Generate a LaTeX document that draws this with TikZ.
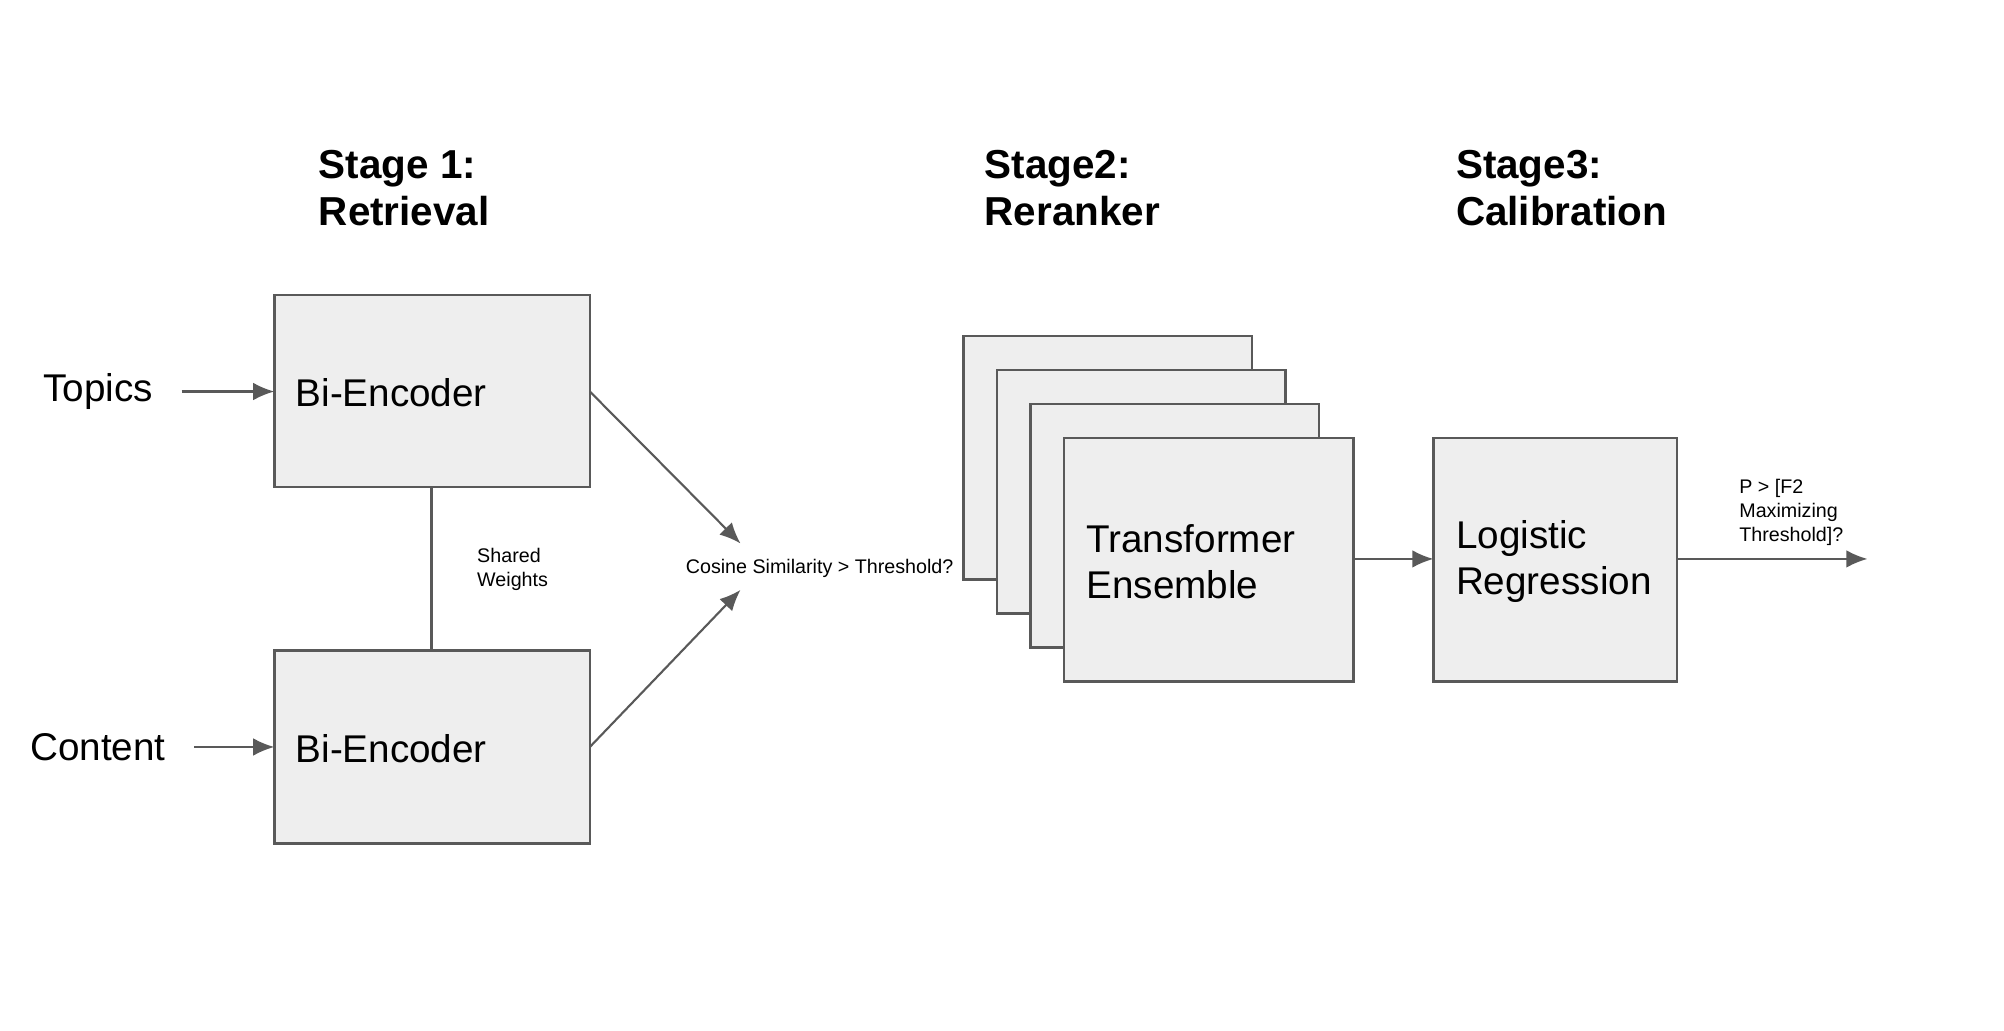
\documentclass[tikz,border=0pt]{standalone}
\usepackage{fontspec}
\setmainfont{Liberation Sans}
\usetikzlibrary{arrows.meta}
\definecolor{boxfill}{HTML}{EEEEEE}
\definecolor{linegray}{HTML}{595959}
\tikzset{
  blk/.style={draw=linegray, fill=boxfill, line width=0.7pt},
  arr/.style={draw=linegray, line width=0.6pt, -{Latex[length=6pt,width=5pt]}},
  conn/.style={draw=linegray, line width=0.6pt},
  stage/.style={anchor=north west, align=left, inner sep=0pt, font=\fontsize{11.5}{13.4}\selectfont\bfseries},
  big/.style={anchor=west, align=left, inner sep=0pt, font=\fontsize{11}{13.2}\selectfont},
  small/.style={anchor=west, align=left, inner sep=0pt, font=\fontsize{5.6}{6.8}\selectfont}
}
\begin{document}
\begin{tikzpicture}[x=0.01288cm, y=-0.01288cm]
\useasboundingbox (0,0) rectangle (1556,800);
% stage titles
\node[stage] (s1) at (247,116) {Stage 1:\\Retrieval};
\node[stage] (s2) at (764,116) {Stage2:\\Reranker};
\node[stage] (s3) at (1130,116) {Stage3:\\Calibration};
% stage 1
\draw[blk] (213,229) rectangle (458,378);
\draw[blk] (213,505) rectangle (458,655);
\coordinate (e1w) at (213,304);
\coordinate (e1e) at (458,304);
\coordinate (e1s) at (335,378);
\coordinate (e2w) at (213,580);
\coordinate (e2e) at (458,580);
\coordinate (e2n) at (335,505);
\node[big] (b1) at (229,305) {Bi-Encoder};
\node[big] (b2) at (229,581) {Bi-Encoder};
\node[big] (top) at (33,304) {Topics};
\node[big] (con) at (23,580) {Content};
\coordinate (topE) at (141,304);
\coordinate (conE) at (151,580);
\draw[arr] (topE) -- (e1w);
\draw[arr] (conE) -- (e2w);
\draw[conn] (e1s) -- (e2n);
\node[small] (sw) at (370,442) {Shared\\Weights};
\node[small] (cos) at (532,441) {Cosine Similarity > Threshold?};
\coordinate (cu) at (575,422);
\coordinate (cd) at (575,458);
\draw[arr] (e1e) -- (cu);
\draw[arr] (e2e) -- (cd);
% stage 2
\foreach \i in {0,1,2} {
  \draw[blk] (748+26*\i,261+26.3*\i) rectangle (972+26*\i,450+26.3*\i);
}
\draw[blk] (826,340) rectangle (1051,529);
\node[big] (tr) at (843,436) {Transformer\\Ensemble};
% stage 3
\draw[blk] (1113,340) rectangle (1302,529);
\node[big] (lr) at (1130,436) {Logistic\\Regression};
\coordinate (tE) at (1051,434);
\coordinate (lW) at (1113,434);
\coordinate (lE) at (1302,434);
\coordinate (out) at (1450,434);
\draw[arr] (tE) -- (lW);
\draw[arr] (lE) -- (out);
\node[small] (p) at (1350,398) {P > [F2\\Maximizing\\Threshold]?};
\end{tikzpicture}
\end{document}
